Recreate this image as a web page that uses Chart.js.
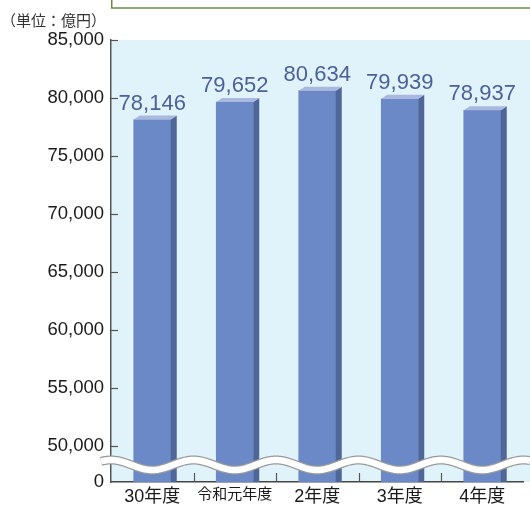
<!DOCTYPE html>
<html>
<head>
<meta charset="utf-8">
<script src="https://cdn.jsdelivr.net/npm/chart.js@4/dist/chart.umd.min.js"></script>
<style>
  html, body { margin: 0; padding: 0; background: #fff; }
  #wrap { width: 530px; height: 508px; position: relative; }
</style>
</head>
<body>
<div id="wrap"><canvas id="barChart" width="530" height="508"></canvas></div>
<script>
// data
const years = ['30年度', '令和元年度', '2年度', '3年度', '4年度'];
const amounts = [78146, 79652, 80634, 79939, 78937];
const yTicks = [50000, 55000, 60000, 65000, 70000, 75000, 80000, 85000];
const unitText = '（単位：億円）';

// broken axis: 50,000 sits 36px above the "0" line, 58px per 5,000
const AXIS_MIN = 50000 - 36 * 5000 / 58;
const AXIS_MAX = 85000;

const numFont = "'Liberation Sans', Arial, 'Noto Sans CJK JP', sans-serif";
const cjkFont = "'Liberation Sans', 'Noto Sans CJK JP', sans-serif";

const fmt = v => v.toLocaleString('en-US');

// light blue panel, runs to the right edge of the picture
const panelBg = {
    id: 'panelBg',
    beforeDraw(chart) {
        const { ctx, chartArea } = chart;
        ctx.save();
        ctx.fillStyle = '#e0f3fb';
        ctx.fillRect(chartArea.left, chartArea.top, chart.width - chartArea.left, chartArea.bottom - chartArea.top);
        ctx.restore();
    }
};

// side and top faces for the bars, plus the value labels
const bar3d = {
    id: 'bar3d',
    afterDatasetsDraw(chart) {
        const { ctx } = chart;
        const meta = chart.getDatasetMeta(0);
        const dx = 6, dy = 4;
        ctx.save();
        meta.data.forEach((bar, i) => {
            const half = bar.width / 2;
            const l = bar.x - half, r = bar.x + half;
            // side
            ctx.fillStyle = '#4f6798';
            ctx.beginPath();
            ctx.moveTo(r, bar.y);
            ctx.lineTo(r + dx, bar.y - dy);
            ctx.lineTo(r + dx, bar.base);
            ctx.lineTo(r, bar.base);
            ctx.closePath();
            ctx.fill();
            // top
            ctx.fillStyle = '#aab8e0';
            ctx.beginPath();
            ctx.moveTo(l, bar.y);
            ctx.lineTo(l + dx, bar.y - dy);
            ctx.lineTo(r + dx, bar.y - dy);
            ctx.lineTo(r, bar.y);
            ctx.closePath();
            ctx.fill();
            // value
            ctx.fillStyle = '#4c6199';
            ctx.font = '22px ' + numFont;
            ctx.textAlign = 'center';
            ctx.textBaseline = 'alphabetic';
            ctx.fillText(fmt(amounts[i]), bar.x, bar.y - 10);
        });
        ctx.restore();
    }
};

// inward tick marks, wavy break, unit text, box at the top
const extras = {
    id: 'extras',
    afterDraw(chart) {
        const { ctx, chartArea, scales } = chart;
        const y = scales.y, x = scales.x;
        ctx.save();
        ctx.strokeStyle = '#555';
        ctx.lineWidth = 1.2;
        yTicks.forEach(v => {
            const py = Math.round(y.getPixelForValue(v)) + 0.5;
            ctx.beginPath();
            ctx.moveTo(chartArea.left, py);
            ctx.lineTo(chartArea.left + 7, py);
            ctx.stroke();
        });
        for (let i = 1; i < years.length; i++) {
            const px = Math.round((x.getPixelForValue(i - 1) + x.getPixelForValue(i)) / 2) + 0.5;
            ctx.beginPath();
            ctx.moveTo(px, chartArea.bottom);
            ctx.lineTo(px, chartArea.bottom - 9);
            ctx.stroke();
        }

        // wave
        const period = x.getPixelForValue(1) - x.getPixelForValue(0);
        const x0 = x.getPixelForValue(0);
        const wave = () => {
            ctx.beginPath();
            for (let px = 101; px <= chart.width; px += 1) {
                const py = 465 + 5 * Math.cos(2 * Math.PI * (px - x0) / period);
                if (px === 101) ctx.moveTo(px, py); else ctx.lineTo(px, py);
            }
        };
        ctx.lineCap = 'butt';
        wave();
        ctx.strokeStyle = '#9a9a9a';
        ctx.lineWidth = 9;
        ctx.stroke();
        wave();
        ctx.strokeStyle = '#ffffff';
        ctx.lineWidth = 6.5;
        ctx.stroke();

        // unit
        ctx.fillStyle = '#333';
        ctx.font = "15px 'Noto Sans CJK JP', sans-serif";
        ctx.textAlign = 'left';
        ctx.textBaseline = 'middle';
        ctx.fillText(unitText, 1, 20);

        // box peeking in at the top
        ctx.fillStyle = '#fff';
        ctx.fillRect(111, -5, 430, 13);
        ctx.strokeStyle = '#6b8a4a';
        ctx.lineWidth = 1.5;
        ctx.strokeRect(111.75, -5, 430, 13);
        ctx.restore();
    }
};

const ctx = document.getElementById('barChart').getContext('2d');
new Chart(ctx, {
    type: 'bar',
    data: {
        labels: years,
        datasets: [{
            data: amounts,
            backgroundColor: '#6b89c6',
            borderWidth: 0,
            barThickness: 37,
            base: AXIS_MIN
        }]
    },
    options: {
        responsive: false,
        animation: false,
        layout: { padding: { left: 0, right: 6.5, top: 40, bottom: 0 } },
        plugins: {
            legend: { display: false },
            tooltip: { enabled: false }
        },
        scales: {
            x: {
                grid: { display: false, drawTicks: false },
                border: { color: '#444', width: 1.5 },
                ticks: {
                    color: '#1a1a1a',
                    padding: 4,
                    maxRotation: 0,
                    autoSkip: false,
                    font: c => c.index === 1 ? { family: cjkFont, size: 15 } : { family: cjkFont, size: 18 }
                },
                afterFit: s => { s.height = 26; }
            },
            y: {
                min: AXIS_MIN,
                max: AXIS_MAX,
                grid: { display: false, drawTicks: false },
                border: { color: '#555', width: 1.5 },
                afterBuildTicks: s => {
                    s.ticks = [AXIS_MIN].concat(yTicks).map(v => ({ value: v }));
                },
                ticks: {
                    color: '#1a1a1a',
                    padding: 7,
                    font: { family: numFont, size: 18.5 },
                    callback: v => v < 50000 ? '0' : fmt(v)
                },
                afterFit: s => { s.width = 111; }
            }
        }
    },
    plugins: [panelBg, bar3d, extras]
});
</script>
</body>
</html>
